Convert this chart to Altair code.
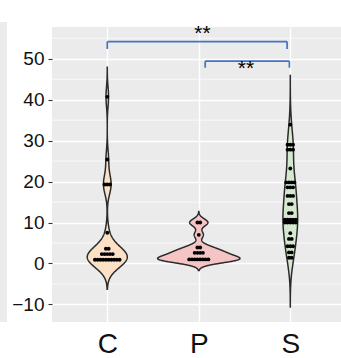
import altair as alt
import numpy as np
import pandas as pd

groups = ["C", "P", "S"]
c_values = [0.9, 0.9, 0.9, 0.9, 0.9, 0.9, 0.9, 0.9, 0.9, 0.9,
            2.3, 2.3, 2.3, 2.3, 2.3, 3.6, 3.6, 7.5,
            19.3, 19.3, 19.3, 25.4, 40.7]
p_values = [1.0, 1.0, 1.0, 1.0, 1.0, 1.0, 1.0, 1.0,
            2.6, 2.6, 2.6, 2.6, 3.9, 3.9, 7.0, 10.0, 10.0]
s_values = [1.4, 1.4, 2.7, 2.7, 4.2, 4.2, 4.2, 6.0, 6.0, 7.4,
            10.0, 10.0, 10.0, 10.0, 10.0, 10.7, 10.7, 10.7, 10.7, 10.7,
            12.3, 12.3, 14.5, 14.5, 16.5, 16.5, 16.5,
            18.6, 18.6, 18.6, 19.8, 19.8, 19.8, 19.8,
            23.2, 27.8, 27.8, 27.8, 29.0, 29.0, 29.0, 33.9]
bandwidths = [2.4, 0.9, 4.0]
fills = ["#FDE1C7", "#F5C5C5", "#D5E9D1"]
y_ticks = [-10, 0, 10, 20, 30, 40, 50]
minor_ticks = [-5, 5, 15, 25, 35, 45, 55]

# significance brackets: (start, end, line level, tip level)
brackets = [(0.0, 1.965, 54.2, 52.4), (1.07, 1.99, 49.4, 47.8)]
labels = ["**", "**"]
label_x = [1.04, 1.515]
label_y = [56.0, 47.4]

all_vals = [c_values, p_values, s_values]

# violin densities (gaussian kernel, untrimmed)
dens_parts = []
for i, (g, vals, bw) in enumerate(zip(groups, all_vals, bandwidths)):
    v = np.array(vals)
    grid = np.linspace(v.min() - 3 * bw, v.max() + 3 * bw, 400)
    d = np.exp(-0.5 * ((grid[:, None] - v[None, :]) / bw) ** 2).sum(1) / (len(v) * bw * np.sqrt(2 * np.pi))
    dens_parts.append(pd.DataFrame({"grp": g, "idx": i, "y": grid, "d": d}))
kde = pd.concat(dens_parts, ignore_index=True)
kde["hw"] = 0.45 * kde["d"] / kde["d"].max()
kde["x1"] = kde["idx"] - kde["hw"]
kde["x2"] = kde["idx"] + kde["hw"]

pts = pd.concat([pd.DataFrame({"grp": g, "idx": i, "val": vals})
                 for i, (g, vals) in enumerate(zip(groups, all_vals))], ignore_index=True)

seg_rows = []
for (a, b, lv, tp) in brackets:
    seg_rows.append({"x": a, "x2": b, "y": lv, "y2": lv})
    seg_rows.append({"x": a, "x2": a, "y": lv, "y2": tp})
    seg_rows.append({"x": b, "x2": b, "y": lv, "y2": tp})
segs = pd.DataFrame(seg_rows)
txt = pd.DataFrame({"x": label_x, "y": label_y, "t": labels})

FONT = "Liberation Sans"
xscale = alt.Scale(domain=[-0.604, 2.554], nice=False, zero=False)
yscale = alt.Scale(domain=[-14.29, 57.75], nice=False, zero=False)

xaxis = alt.Axis(values=[0, 1, 2], labelExpr="['C','P','S'][datum.value]", title=None,
                 ticks=False, domain=False, grid=True, gridColor="white", gridWidth=1.4,
                 labelFontSize=28, labelColor="#111111", labelPadding=8, labelFont=FONT)
yaxis = alt.Axis(values=y_ticks, title=None, domain=False, grid=True, gridColor="white",
                 gridWidth=1.4, tickColor="#333333", tickSize=4, tickWidth=1.1,
                 labelFontSize=19, labelColor="#111111", labelPadding=4, labelFont=FONT)

# edge of the neighbouring (cropped) panel at the far left
strip = alt.Chart(pd.DataFrame({"k": [0]})).mark_rect(color="#EBEBEB").encode(
    x=alt.value(-52), x2=alt.value(-45), y=alt.value(-5), y2=alt.value(295))

minor = alt.Chart(pd.DataFrame({"m": minor_ticks})).mark_rule(color="white", strokeWidth=0.7).encode(
    y=alt.Y("m:Q", scale=yscale, axis=yaxis))

violin = alt.Chart(kde).mark_area(orient="horizontal", stroke="#2b2b2b", strokeWidth=1.5,
                                  fillOpacity=1).encode(
    y=alt.Y("y:Q", scale=yscale, axis=yaxis),
    x=alt.X("x1:Q", scale=xscale, axis=xaxis),
    x2="x2:Q",
    color=alt.Color("grp:N", scale=alt.Scale(domain=groups, range=fills), legend=None),
    detail="grp:N",
)

dots = alt.Chart(pts).transform_window(
    rn="row_number()", groupby=["grp", "val"]
).transform_joinaggregate(
    n="count()", groupby=["grp", "val"]
).transform_calculate(
    xd="datum.idx + (datum.rn - (datum.n + 1) / 2) * 0.03"
).mark_circle(size=15, color="black", opacity=1).encode(
    x=alt.X("xd:Q", scale=xscale, axis=xaxis),
    y=alt.Y("val:Q", scale=yscale, axis=yaxis),
)

brk = alt.Chart(segs).mark_rule(color="#4472C4", strokeWidth=1.7).encode(
    x=alt.X("x:Q", scale=xscale, axis=xaxis), x2="x2:Q",
    y=alt.Y("y:Q", scale=yscale, axis=yaxis), y2="y2:Q")

stars = alt.Chart(txt).mark_text(fontSize=21, font=FONT, color="black", baseline="middle").encode(
    x=alt.X("x:Q", scale=xscale, axis=xaxis),
    y=alt.Y("y:Q", scale=yscale, axis=yaxis), text="t:N")

chart = alt.layer(strip, minor, violin, dots, brk, stars).properties(
    width=289, height=295,
    background="white",
    autosize=alt.AutoSizeParams(type="none"),
    padding={"left": 52, "top": 27, "right": 0, "bottom": 36},
).configure_view(fill="#EBEBEB", stroke=None)

chart.save("out.html", embed_options={"renderer": "svg", "actions": False})
